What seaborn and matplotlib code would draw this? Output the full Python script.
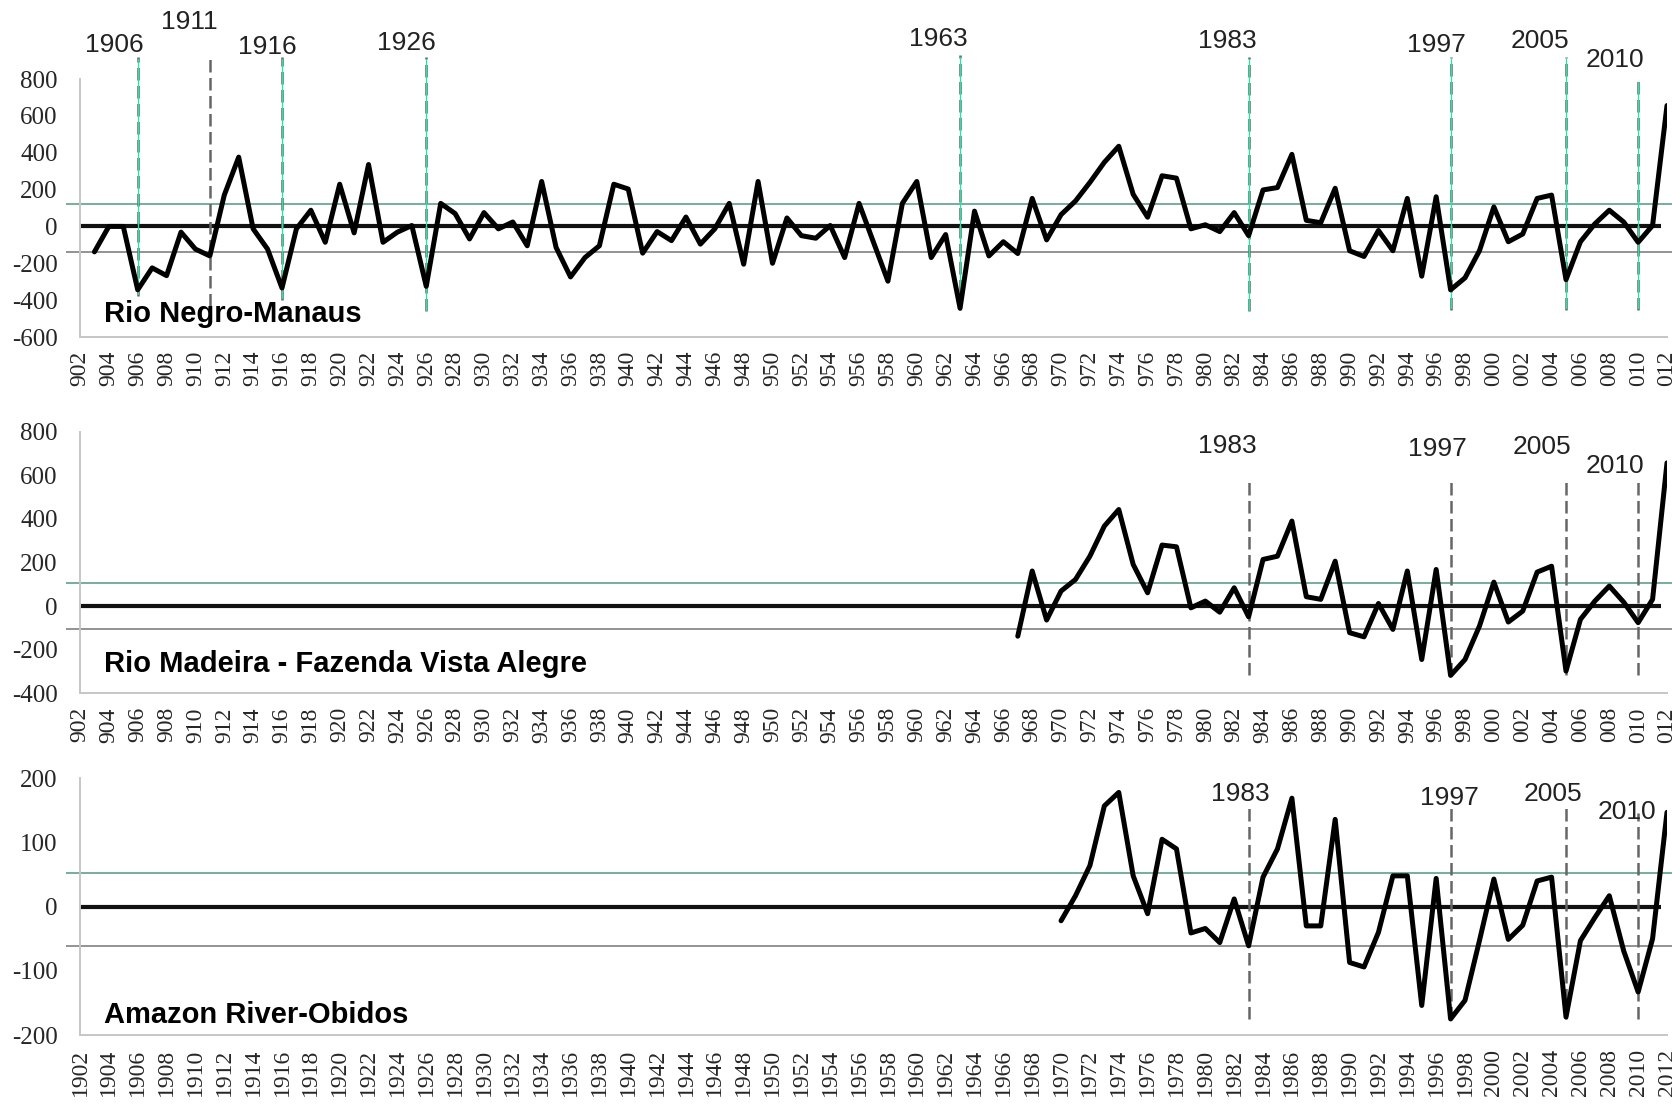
import numpy as np
import pandas as pd
import matplotlib
matplotlib.use("Agg")
import matplotlib.pyplot as plt
import seaborn as sns

# ---------------- data ----------------
years = list(range(1902, 2013))

negro_years = list(range(1903, 2013))
negro_values = [
    -138, 0, 0, -344, -225, -267, -31, -123, -160, 170,
    376, -13, -123, -334, -13, 88, -86, 229, -35, 336,
    -86, -31, 5, -325, 125, 70, -68, 75, -13, 24,
    -105, 244, -114, -274, -169, -105, 229, 203, -145, -28,
    -77, 51, -96, -13, 125, -205, 244, -200, 46, -50,
    -64, 5, -169, 125, -86, -297, 125, 244, -169, -44,
    -444, 83, -160, -83, -147, 152, -73, 64, 138, 239,
    348, 435, 174, 50, 275, 262, -13, 9, -28, 75,
    -50, 198, 211, 391, 33, 20, 207, -132, -163, -22,
    -132, 152, -270, 161, -344, -279, -132, 106, -83, -41,
    152, 170, -289, -83, 14, 88, 24, -86, 5, 656,
]

madeira_years = list(range(1967, 2013))
madeira_values = [
    -138, 161, -64, 69, 122, 229, 367, 443, 191, 61,
    280, 272, -8, 23, -28, 84, -49, 214, 229, 390,
    43, 31, 206, -122, -141, 12, -107, 161, -245, 168,
    -318, -245, -92, 110, -73, -23, 156, 183, -298, -61,
    23, 92, 18, -76, 31, 657,
]

obidos_years = list(range(1970, 2013))
obidos_values = [
    -22, 17, 64, 157, 178, 48, -11, 105, 90, -41,
    -34, -56, 12, -61, 46, 90, 169, -30, -30, 136,
    -87, -94, -40, 48, 48, -154, 44, -175, -146, -53,
    43, -51, -29, 40, 46, -172, -53, -17, 17, -69,
    -133, -50, 147,
]

negro_band = [120, -140]
madeira_band = [104, -104]
obidos_band = [52, -62]

negro_events = [1906, 1911, 1916, 1926, 1963, 1983, 1997, 2005, 2010]
other_events = [1983, 1997, 2005, 2010]

panel_titles = ["Rio Negro-Manaus", "Rio Madeira - Fazenda Vista Alegre", "Amazon River-Obidos"]

negro_yticks = [-600, -400, -200, 0, 200, 400, 600, 800]
madeira_yticks = [-400, -200, 0, 200, 400, 600, 800]
obidos_yticks = [-200, -100, 0, 100, 200]

# ---------------- layout / style ----------------
sns.set_style("white")
plt.rcParams["font.family"] = ["Liberation Sans", "DejaVu Sans"]
plt.rcParams["axes.unicode_minus"] = False

W, H = 1672, 1110
fig = plt.figure(figsize=(W / 100, H / 100), dpi=100)

def frac_axes(x0, y_top, x1, y_bot):
    return [x0 / W, 1 - y_bot / H, (x1 - x0) / W, (y_bot - y_top) / H]

x_left, x_right = 80, 1667
panels = [
    dict(rect=frac_axes(x_left, 79, x_right, 337), ylim=(-600, 800), yticks=negro_yticks,
         yrs=negro_years, vals=negro_values, band=negro_band, events=negro_events,
         short_labels=True, title_y=0.059,
         ev_label=[(-1.6, 987), (-1.4, 1108), (-1.0, 976), (-1.4, 998), (-1.5, 1015),
                   (-1.5, 1005), (-1.0, 987), (-1.8, 1005), (-1.6, 905)],
         ev_ext=[(-378, 917), (-433, 921), (-400, 917), (-461, 921), (-455, 932),
                 (-461, 921), (-455, 921), (-455, 921), (-455, 794)],
         ev_green=[True, False, True, True, True, True, True, True, True]),
    dict(rect=frac_axes(x_left, 431.7, x_right, 693.3), ylim=(-400, 800), yticks=madeira_yticks,
         yrs=madeira_years, vals=madeira_values, band=madeira_band, events=other_events,
         short_labels=True, title_y=0.083,
         ev_label=[(-1.5, 733), (-0.9, 719), (-1.7, 728), (-1.6, 641)],
         ev_ext=[(-314, 581)] * 4,
         ev_green=[False] * 4),
    dict(rect=frac_axes(x_left, 778.3, x_right, 1035), ylim=(-200, 200), yticks=obidos_yticks,
         yrs=obidos_years, vals=obidos_values, band=obidos_band, events=other_events,
         short_labels=False, title_y=0.046,
         ev_label=[(-0.6, 175), (-0.1, 170), (-0.9, 175), (-0.8, 147)],
         ev_ext=[(-175, 160), (-175, 160), (-175, 160), (-175, 146)],
         ev_green=[False] * 4),
]

for p, title in zip(panels, panel_titles):
    ax = fig.add_axes(p["rect"])
    ax.set_xlim(years[0], years[-1])
    ax.set_ylim(*p["ylim"])

    ax.hlines(p["band"][0], years[0] - 1.0, years[-1] + 1, colors="#6aa890", lw=1.3, clip_on=False, zorder=1)
    ax.hlines(p["band"][1], years[0] - 1.0, years[-1] + 1, colors="#8a8a8a", lw=1.3, clip_on=False, zorder=1)
    ax.hlines(0, years[0], years[-1] - 0.4, colors="#111111", lw=3.0, zorder=2)

    for ev, (dx, ly), (lo, hi), green in zip(p["events"], p["ev_label"], p["ev_ext"], p["ev_green"]):
        ax.plot([ev, ev], [lo, hi], color="#666666", lw=1.8, dashes=(5, 2.2), clip_on=False, zorder=3)
        if green:
            ax.plot([ev, ev], [lo + 10, hi - 10], color="#1ee6a6", lw=0.9, clip_on=False, zorder=4)
        ax.text(ev + dx, ly, str(ev), ha="center", va="center", fontsize=19,
                color="#222222", clip_on=False, zorder=5)

    df = pd.DataFrame({"year": p["yrs"], "value": p["vals"]})
    sns.lineplot(data=df, x="year", y="value", ax=ax, color="black", lw=3.6,
                 estimator=None, sort=False, zorder=6)

    ax.set_xlabel("")
    ax.set_ylabel("")
    ax.set_yticks(p["yticks"])
    ax.set_yticklabels([str(v) for v in p["yticks"]], fontfamily="Liberation Serif", fontsize=18)
    xt = years[::2]
    ax.set_xticks(xt)
    labels = [str(y)[1:] if p["short_labels"] else str(y) for y in xt]
    ax.set_xticklabels(labels, rotation=90, fontfamily="Liberation Serif", fontsize=17)
    ax.tick_params(axis="y", length=0, pad=16)
    ax.tick_params(axis="x", length=0, pad=10)

    for s in ["top", "right"]:
        ax.spines[s].set_visible(False)
    for s in ["left", "bottom"]:
        ax.spines[s].set_color("#c6c6c6")
        ax.spines[s].set_linewidth(1.4)
    ax.grid(False)

    ax.text(0.0149, p["title_y"], title, transform=ax.transAxes, fontsize=21,
            fontweight="bold", ha="left", va="baseline", color="black", zorder=7)

fig.savefig("out.png", dpi=100)
